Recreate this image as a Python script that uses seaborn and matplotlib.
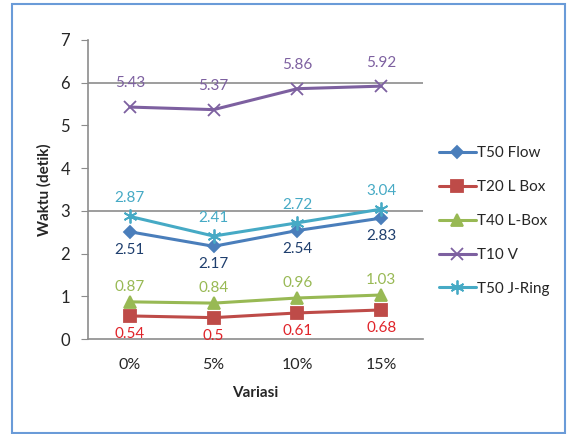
import matplotlib
matplotlib.use("Agg")
import matplotlib.pyplot as plt
import seaborn as sns
import pandas as pd
from matplotlib.patches import Rectangle

categories = ["0%", "5%", "10%", "15%"]
t50_flow = [2.51, 2.17, 2.54, 2.83]
t20_lbox = [0.54, 0.50, 0.61, 0.68]
t40_lbox = [0.87, 0.84, 0.96, 1.03]
t10_v = [5.43, 5.37, 5.86, 5.92]
t50_jring = [2.87, 2.41, 2.72, 3.04]
label_texts = {
    "T50 Flow": ["2.51", "2.17", "2.54", "2.83"],
    "T20 L Box": ["0.54", "0.5", "0.61", "0.68"],
    "T40 L-Box": ["0.87", "0.84", "0.96", "1.03"],
    "T10 V": ["5.43", "5.37", "5.86", "5.92"],
    "T50 J-Ring": ["2.87", "2.41", "2.72", "3.04"],
}

series_names = ["T50 Flow", "T20 L Box", "T40 L-Box", "T10 V", "T50 J-Ring"]
series_vals = [t50_flow, t20_lbox, t40_lbox, t10_v, t50_jring]

rows = []
for name, vals in zip(series_names, series_vals):
    for c, v in zip(categories, vals):
        rows.append({"Variasi": c, "Waktu (detik)": v, "Seri": name})
df = pd.DataFrame(rows)

colors = {"T50 Flow": "#4A7EBB", "T20 L Box": "#BE4B48", "T40 L-Box": "#98B954",
          "T10 V": "#7D60A0", "T50 J-Ring": "#46AAC5"}
label_colors = {"T50 Flow": "#1F3F6E", "T20 L Box": "#E0242A", "T40 L-Box": "#98B954",
                "T10 V": "#7D60A0", "T50 J-Ring": "#46AAC5"}
markers = {"T50 Flow": "D", "T20 L Box": "s", "T40 L-Box": "^", "T10 V": "x", "T50 J-Ring": (6, 2, 0)}
msizes = {"T50 Flow": 6.5, "T20 L Box": 8, "T40 L-Box": 9, "T10 V": 8, "T50 J-Ring": 10}
offsets = {"T50 Flow": -13, "T20 L Box": -13, "T40 L-Box": 11, "T10 V": 17, "T50 J-Ring": 13}

sns.set_style("white")
plt.rcParams["font.family"] = ["Lato", "DejaVu Sans"]

fig = plt.figure(figsize=(5.68, 4.34), dpi=100)
ax = fig.add_axes([88/568, 1-339/434, (423-88)/568, (339-40)/434])

for name in series_names:
    sub = df[df["Seri"] == name]
    sns.lineplot(data=sub, x="Variasi", y="Waktu (detik)", ax=ax, color=colors[name],
                 marker=markers[name], markersize=msizes[name], linewidth=2.2,
                 markeredgecolor=colors[name], markeredgewidth=1.3, label=name, sort=False)
    for i, (c, v) in enumerate(zip(sub["Variasi"], sub["Waktu (detik)"])):
        ax.annotate(label_texts[name][i], (i, v), xytext=(0, offsets[name]),
                    textcoords="offset points", ha="center", va="center",
                    fontsize=11, color=label_colors[name])

ax.set_xlim(-0.5, 3.5)
ax.set_ylim(0, 7)
ax.set_yticks(range(0, 8))
for g in [3, 6]:
    ax.axhline(g, color="#8C8C8C", linewidth=1.2, zorder=0)
for s in ["top", "right"]:
    ax.spines[s].set_visible(False)
ax.spines["left"].set_color("#8C8C8C")
ax.spines["bottom"].set_color("#8C8C8C")
ax.spines["left"].set_linewidth(1.2)
ax.spines["bottom"].set_linewidth(1.2)
ax.tick_params(axis="y", length=5, color="#8C8C8C", labelsize=12, pad=8, left=True)
ax.tick_params(axis="x", length=0, labelsize=11.5, pad=14)
ax.set_xlabel("Variasi", fontsize=11, fontweight="bold", labelpad=10)
ax.set_ylabel("Waktu (detik)", fontsize=11, fontweight="bold", labelpad=6)

ax.legend(loc="center left", bbox_to_anchor=(433/568, 1-221/434), bbox_transform=fig.transFigure,
          frameon=False, fontsize=11, handlelength=2.4, labelspacing=1.3, handletextpad=0.1,
          borderaxespad=0)

fig.patches.append(Rectangle((12/568, 1-433/434), (565-12)/568, (433-4)/434,
                             transform=fig.transFigure, fill=False, edgecolor="#6A9BD8",
                             linewidth=1.5))

fig.savefig("out.png", dpi=100)
